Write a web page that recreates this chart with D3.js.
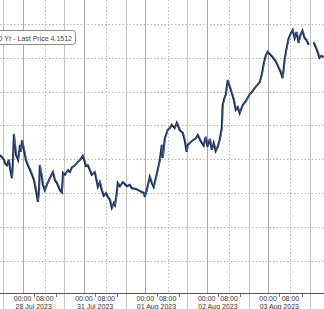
<!DOCTYPE html>
<html>
<head>
<meta charset="utf-8">
<script src="https://cdn.jsdelivr.net/npm/d3@7"></script>
<style>
  html, body { margin: 0; padding: 0; background: #fff; }
  svg { display: block; font-family: "Liberation Sans", Arial, sans-serif; }
</style>
</head>
<body>
<div id="chart"></div>
<script>
// sessions (17:00 prev day -> 15:00), 22 trading hours each
const sessions = ['27 Jul 2023', '28 Jul 2023', '31 Jul 2023', '01 Aug 2023', '02 Aug 2023', '03 Aug 2023', '04 Aug 2023'];
const timeLabels = ['00:00', '08:00'];
const timeOffsets = [7, 15];   // hours after session open
const minorOffsets = [11, 19]; // 04:00, 12:00
const yTicks = [3.85, 3.90, 3.95, 4.00, 4.05, 4.10, 4.15, 4.20];
const legendText = 'US Generic Govt 10 Yr - Last Price 4.1512';

// hours since 28 Jul session open
const hours = [
  -1.1, -0.4, 0.4, 0.7, 1.4, 2.1, 2.5, 3.2, 3.6, 3.9, 4.3, 4.7, 5.4, 6.1, 6.4, 6.8, 7.5, 8.2, 8.9, 9.7,
  10.4, 11.1, 11.8, 12.5, 12.9, 13.2, 14.0, 14.3, 15.0, 15.7, 16.8, 17.9, 18.6, 19.3, 20.4, 21.1, 21.5,
  22.2, 23.3, 24.0, 24.7, 25.8, 26.8, 27.6, 28.6, 29.3, 29.7, 30.4, 31.1, 31.8, 32.9, 34.0, 34.7, 35.4,
  36.1, 36.9, 37.6, 38.3, 39.0, 39.7, 40.1, 40.8, 41.1, 41.9, 42.9, 43.7, 44.4, 45.4, 46.2, 47.6, 49.0,
  50.5, 50.8, 51.5, 52.6, 53.3, 54.0, 55.1, 56.2, 56.9, 57.2, 58.0, 59.0, 59.8, 60.5, 61.5, 62.3, 63.3,
  64.4, 65.1, 65.8, 66.2, 66.9, 68.0, 69.1, 69.8, 70.8, 71.9, 72.6, 73.3, 74.1, 74.8, 75.5, 76.2, 76.9,
  77.6, 78.4, 78.7, 79.4, 79.8, 80.5, 81.2, 81.9, 82.7, 83.4, 84.1, 84.8, 85.9, 86.9, 87.7, 88.4, 89.5,
  90.5, 91.2, 92.0, 92.7, 93.4, 94.1, 94.8, 95.5, 96.6, 97.7, 98.8, 99.5, 100.2, 100.9, 101.6, 102.3,
  103.0, 103.8, 104.5, 105.2, 105.9, 106.6, 107.3, 108.1, 108.8, 109.5, 110.2, 111.3, 112.0, 112.7,
  113.4, 114.1, 114.9
];
const yields = [
  4.006, 4.003, 3.999, 3.994, 3.991, 3.999, 3.987, 3.972, 3.999, 4.037, 4.021, 4.006, 3.999, 4.021, 4.011, 4.028, 4.014, 3.999, 3.991, 3.984,
  3.977, 3.969, 3.954, 3.937, 3.954, 3.991, 3.972, 3.962, 3.954, 3.962, 3.972, 3.981, 3.969, 3.965, 3.954, 3.951, 3.980,
  3.977, 3.984, 3.981, 3.988, 3.991, 3.996, 3.999, 4.005, 3.996, 3.990, 3.991, 3.984, 3.977, 3.981, 3.959, 3.966, 3.954,
  3.946, 3.950, 3.944, 3.940, 3.928, 3.935, 3.932, 3.951, 3.965, 3.960, 3.966, 3.963, 3.960, 3.962, 3.957, 3.956, 3.953,
  3.950, 3.944, 3.954, 3.974, 3.965, 3.959, 3.978, 3.999, 4.021, 4.002, 4.031, 4.043, 4.046, 4.051, 4.046, 4.054, 4.043,
  4.039, 4.028, 4.011, 4.021, 4.024, 4.028, 4.031, 4.036, 4.027, 4.020, 4.033, 4.018, 4.030, 4.014, 4.024, 4.012, 4.018,
  4.028, 4.046, 4.080, 4.091, 4.095, 4.117, 4.108, 4.099, 4.088, 4.073, 4.077, 4.068, 4.080, 4.085, 4.091, 4.096, 4.101,
  4.107, 4.110, 4.114, 4.125, 4.141, 4.153, 4.159, 4.156, 4.151, 4.145, 4.135, 4.129, 4.120, 4.147, 4.164, 4.178,
  4.185, 4.191, 4.179, 4.188, 4.172, 4.184, 4.190, 4.179, 4.176, 4.169, null, 4.173, 4.166, 4.159,
  4.150, 4.153, 4.151
];

const svgWidth = 324;
const svgHeight = 309;
const axisY = 293;
const sessionLen = 22;

const svg = d3.select('#chart')
  .append('svg')
  .attr('width', svgWidth)
  .attr('height', svgHeight);

const x = d3.scaleLinear()
  .domain([0, sessionLen * 5])
  .range([3, 310]);
const y = d3.scaleLinear()
  .domain([3.80, 4.20])
  .range([294.4, 24]);

// first session (27 Jul) starts one session before zero
const sessionStarts = sessions.map((d, i) => (i - 1) * sessionLen);
const inView = px => px > 8 && px < svgWidth + 4;

// horizontal grid (dotted)
svg.append('g')
  .selectAll('line')
  .data(yTicks)
  .join('line')
  .attr('x1', 0)
  .attr('x2', svgWidth)
  .attr('y1', d => Math.round(y(d)) + 0.5)
  .attr('y2', d => Math.round(y(d)) + 0.5)
  .attr('stroke', '#b4b4b4')
  .attr('stroke-dasharray', '1.5,2');

// vertical grid
const vgrid = svg.append('g');
sessionStarts.forEach(s => {
  // session separator, runs through the axis
  vgrid.append('line')
    .attr('x1', Math.round(x(s)) + 0.5).attr('x2', Math.round(x(s)) + 0.5)
    .attr('y1', 0).attr('y2', svgHeight)
    .attr('stroke', '#c4c4c4');
  // 00:00 solid, 08:00 dotted
  timeOffsets.forEach((o, j) => {
    const px = Math.round(x(s + o)) + 0.5;
    vgrid.append('line')
      .attr('x1', px).attr('x2', px)
      .attr('y1', 0).attr('y2', axisY)
      .attr('stroke', j === 0 ? '#a8a8a8' : '#b8b8b8')
      .attr('stroke-dasharray', j === 0 ? null : '1.5,2');
  });
});

// axis line
svg.append('line')
  .attr('x1', 0).attr('x2', svgWidth)
  .attr('y1', axisY + 0.5).attr('y2', axisY + 0.5)
  .attr('stroke', '#555');

// tick labels (only those that reach into the picture)
const axis = svg.append('g')
  .attr('font-size', '7px')
  .attr('fill', '#333')
  .attr('text-anchor', 'middle');
sessionStarts.forEach((s, i) => {
  timeOffsets.forEach((o, j) => {
    if (!inView(x(s + o))) return;
    axis.append('text')
      .attr('x', x(s + o))
      .attr('y', 301)
      .text(timeLabels[j]);
  });
  minorOffsets.forEach(o => {
    axis.append('line')
      .attr('x1', Math.round(x(s + o)) + 0.5).attr('x2', Math.round(x(s + o)) + 0.5)
      .attr('y1', axisY + 1).attr('y2', axisY + 4)
      .attr('stroke', '#777');
  });
  const mid = x(s + sessionLen / 2);
  if (mid > 10 && mid < svgWidth - 10) {
    axis.append('text')
      .attr('x', mid)
      .attr('y', 309)
      .text(sessions[i]);
  }
});

// price line
const pts = hours.map((h, i) => [h, yields[i]]);
const line = d3.line()
  .defined(d => d[1] != null)
  .x(d => x(d[0]))
  .y(d => y(d[1]));

svg.append('path')
  .datum(pts)
  .attr('d', line)
  .attr('fill', 'none')
  .attr('stroke', '#18243c')
  .attr('stroke-width', 2)
  .attr('stroke-linejoin', 'miter');
svg.append('path')
  .datum(pts)
  .attr('d', line)
  .attr('transform', 'translate(0.6,-0.5)')
  .attr('fill', 'none')
  .attr('stroke', '#4a7cbb')
  .attr('stroke-width', 0.7);

// legend box (partly off the left edge)
const legend = svg.append('g');
legend.append('rect')
  .attr('x', -120).attr('y', 30.5)
  .attr('width', 195.5).attr('height', 14)
  .attr('rx', 3)
  .attr('fill', '#fff')
  .attr('stroke', '#8a8a8a');
legend.append('text')
  .attr('x', 72)
  .attr('y', 40.5)
  .attr('text-anchor', 'end')
  .attr('font-size', '7px')
  .attr('fill', '#444')
  .text(legendText);
</script>
</body>
</html>
